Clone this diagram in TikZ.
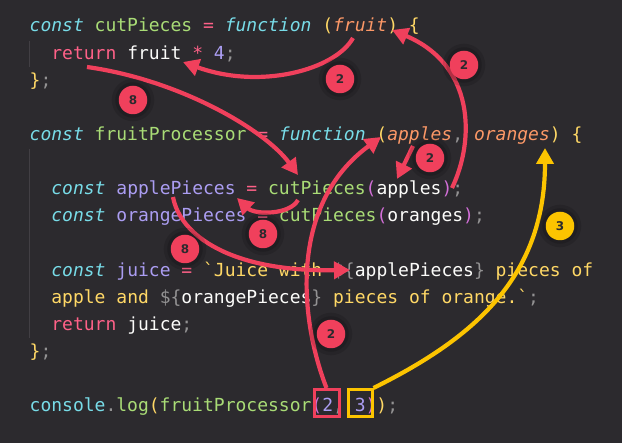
\documentclass[tikz,border=0pt]{standalone}
\usepackage{fontspec}
\newfontfamily\codefont{DejaVu Sans Mono}[Ligatures=TeXOff]
\newfontfamily\badgefont{DejaVu Sans}
\usetikzlibrary{arrows.meta}
\definecolor{bgc}{HTML}{2C2A2E}
\definecolor{fgc}{HTML}{FCFCFA}
\definecolor{pinkc}{HTML}{FF6188}
\definecolor{orangec}{HTML}{FC9867}
\definecolor{yellowc}{HTML}{FFD866}
\definecolor{greenc}{HTML}{A9DC76}
\definecolor{cyanc}{HTML}{78DCE8}
\definecolor{purplec}{HTML}{AB9DF2}
\definecolor{grayc}{HTML}{939293}
\definecolor{magentac}{HTML}{D36FD8}
\definecolor{guidec}{HTML}{423F44}
\definecolor{redc}{HTML}{F0405C}
\definecolor{goldc}{HTML}{FCC400}
\newcommand\kw[1]{\textcolor{cyanc}{\itshape #1}}
\newcommand\pr[1]{\textcolor{orangec}{\itshape #1}}
\newcommand\op[1]{\textcolor{pinkc}{#1}}
\newcommand\fn[1]{\textcolor{greenc}{#1}}
\newcommand\vr[1]{\textcolor{purplec}{#1}}
\newcommand\st[1]{\textcolor{yellowc}{#1}}
\newcommand\pu[1]{\textcolor{grayc}{#1}}
\newcommand\br[1]{\textcolor{magentac}{#1}}
\tikzset{every picture/.append style={x=1pt,y=-1pt}}
\tikzset{
    codeline/.style={inner sep=0pt, anchor=base west, text=fgc,
    	font=\codefont\fontsize{18}{18}\selectfont},
    badge/.style={circle, fill=redc, minimum size=28.5pt, inner sep=0pt,
    	text=bgc, font=\badgefont\bfseries\fontsize{12}{12}\selectfont,
    	preaction={draw=black, draw opacity=.12, line width=14pt},
    	preaction={draw=black, draw opacity=.15, line width=7pt}},
    flow/.style={draw=redc, line width=4.2pt,
    	-{Triangle[length=16pt,width=17pt]}},
    argbox/.style={draw=redc, line width=3pt, minimum width=25pt,
    	minimum height=27pt, inner sep=0pt},
    guide/.style={draw=guidec, line width=1pt}
}

\begin{document}
\begin{tikzpicture}
	\fill[bgc] (0,0) rectangle (622,443);
	\draw[guide] (29.5,41) -- (29.5,67);
	\draw[guide] (29.5,149) -- (29.5,338);
	\node[codeline] (l1) at (29.5,32) {\kw{const} \fn{cutPieces} \op{=} \kw{function} \st{(}\pr{fruit}\st{)} \st{\{}};
	\node[codeline] (l2) at (51.2,59.1) {\op{return} fruit \op{*} \vr{4}\pu{;}};
	\node[codeline] (l3) at (29.5,86.3) {\st{\}}\pu{;}};
	\node[codeline] (l5) at (29.5,140.6) {\kw{const} \fn{fruitProcessor} \op{=} \kw{function} \st{(}\pr{apples}\pu{,} \pr{oranges}\st{)} \st{\{}};
	\node[codeline] (l7) at (51.2,194.8) {\kw{const} \vr{applePieces} \op{=} \fn{cutPieces}\br{(}apples\br{)}\pu{;}};
	\node[codeline] (l8) at (51.2,222) {\kw{const} \vr{orangePieces} \op{=} \fn{cutPieces}\br{(}oranges\br{)}\pu{;}};
	\node[codeline] (l10) at (51.2,276.3) {\kw{const} \vr{juice} \op{=} \st{`Juice with }\pu{\$\{}applePieces\pu{\}} \st{pieces of}};
	\node[codeline] (l11) at (51.2,303.4) {\st{apple and }\pu{\$\{}orangePieces\pu{\}} \st{pieces of orange.`}\pu{;}};
	\node[codeline] (l12) at (51.2,330.6) {\op{return} juice\pu{;}};
	\node[codeline] (l13) at (29.5,357.7) {\st{\}}\pu{;}};
	\node[codeline] (l15) at (29.5,412) {\textcolor{cyanc}{console}\pu{.}\fn{log}\st{(}\fn{fruitProcessor}\br{(}\vr{2}\pu{,} \vr{3}\br{)}\st{)}\pu{;}};
	\node[argbox] (two) at (326.5,403) {};
	\node[argbox, draw=goldc, minimum width=24pt] (three) at (360,403) {};
	\coordinate (fruitP) at (353,38);
	\coordinate (fruitU) at (183,62);
	\coordinate (fruitA) at (392,30);
	\coordinate (applesA) at (452,188);
	\coordinate (ret) at (87,67);
	\coordinate (callT) at (298,175);
	\coordinate (callB) at (298,200);
	\coordinate (apName) at (237,198);
	\coordinate (apUse) at (173,197);
	\coordinate (apTpl) at (350,270);
	\coordinate (applesP) at (381,137);
	\coordinate (applesS) at (413,146);
	\coordinate (applesC) at (397,179);
	\coordinate (orangesP) at (545,148);
	\draw[flow] (fruitP) .. controls (335,70) and (260,90) .. (fruitU);
	\draw[flow] (applesA) .. controls (475,140) and (475,65) .. (fruitA);
	\draw[flow] (ret) .. controls (180,80) and (265,130) .. (callT);
	\draw[flow] (callB) .. controls (290,215) and (255,215) .. (apName);
	\draw[flow] (apUse) .. controls (180,235) and (230,272) .. (apTpl);
	\draw[flow] (two.north) .. controls (300,320) and (288,205) .. (applesP);
	\draw[flow] (applesS) -- (applesC);
	\draw[flow, draw=goldc] (three.north east) .. controls (470,340) and (545,280) .. (orangesP);
	\node[badge] (b1) at (340,79) {2};
	\node[badge] (b2) at (464,65) {2};
	\node[badge] (b3) at (133,100) {8};
	\node[badge] (b4) at (263,234) {8};
	\node[badge] (b5) at (185,249) {8};
	\node[badge] (b6) at (331,334) {2};
	\node[badge] (b7) at (430,158) {2};
	\node[badge, fill=goldc] (b8) at (560,226) {3};
\end{tikzpicture}
\end{document}
